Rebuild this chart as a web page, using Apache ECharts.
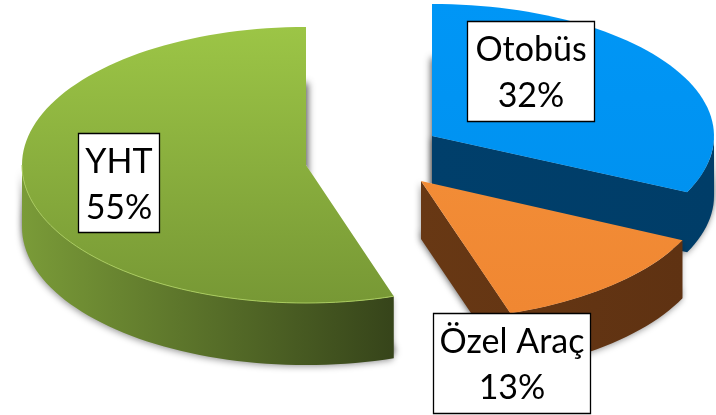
<!DOCTYPE html>
<html><head><meta charset="utf-8">
<style>html,body{margin:0;padding:0;background:#fff}#c{width:716px;height:415px}</style>
<script src="https://cdn.jsdelivr.net/npm/echarts@6/dist/echarts.min.js"></script>
</head><body><div id="c"></div>
<script>
// Data, clockwise from 12 o'clock
const categories = ["Otobüs", "Özel Araç", "YHT"];
const values = [32, 13, 55];
const percentLabels = ["32%", "13%", "55%"];

// Layout and styling of each slice (exploded 3D pie projection)
const layout = [
  {cx:432, cy:136, a:282, b:132, depth:60, sideFrom:90,  withApex:true,  box:[467,21,127,100],
   top:['#0096f6','#0092f0'], side:['#003f6b','#003d68']},
  {cx:421, cy:181, a:289, b:139, depth:58, sideFrom:null, withApex:true, box:[433,313,157,100],
   top:['#f28c36','#f08732'], side:['#683814','#5f3212']},
  {cx:306, cy:165, a:284, b:138, depth:62, sideFrom:270, withApex:false, box:[78,133,81,99],
   top:['#9cc546','#779835'], side:['#7a9b38','#36441a']}
];
const total = values.reduce((s, v) => s + v, 0);
const arcPts = (l, t0, t1) => {
  const n = Math.max(2, Math.ceil(Math.abs(t1 - t0) / 2)), pts = [];
  for (let i = 0; i <= n; i++) {
    const t = (t0 + (t1 - t0) * i / n) * Math.PI / 180;
    pts.push([l.cx + l.a * Math.sin(t), l.cy - l.b * Math.cos(t)]);
  }
  return pts;
};
const grad = (c, horizontal) => new echarts.graphic.LinearGradient(0, 0, horizontal ? 1 : 0, horizontal ? 0 : 1,
  [{offset:0,color:c[0]},{offset:1,color:c[1]}]);

function renderItem(params, api) {
  const i = params.dataIndex, l = layout[i], v = api.value(0);
  let before = 0;
  for (let k = 0; k < i; k++) before += values[k];
  const t0 = before / total * 360, t1 = (before + v) / total * 360;
  const apex = [l.cx, l.cy];
  const rim = arcPts(l, t0, t1);
  const topPts = [apex].concat(rim);
  // visible wall: the rim part facing the viewer, plus the cut face where it shows
  let wallPath;
  if (i === 0) wallPath = [apex].concat(arcPts(l, t1, l.sideFrom));
  else if (i === 1) wallPath = [apex].concat(arcPts(l, t1, t0));
  else wallPath = arcPts(l, t0, l.sideFrom);
  const wall = wallPath.concat(wallPath.slice().reverse().map(p => [p[0], p[1] + l.depth]));
  const [bx, by, bw, bh] = l.box;
  const children = [
    {type:'polygon', shape:{points:topPts}, z2:1,
     style:{fill:'#fff', shadowBlur:7, shadowColor:'rgba(50,50,50,0.8)', shadowOffsetY:l.depth - 6, shadowOffsetX:i === 2 ? 2 : -1}},
    {type:'polygon', shape:{points:wall}, z2:2,
     style:{fill:grad(l.side, true), shadowBlur:6, shadowColor:'rgba(0,0,0,0.35)', shadowOffsetY:2, shadowOffsetX:-1}},
    {type:'polygon', shape:{points:topPts}, z2:3, style:{fill:grad(l.top, false)}},
    {type:'rect', shape:{x:bx+0.5, y:by+0.5, width:bw, height:bh}, z2:20,
     style:{fill:'#fff', stroke:'#000', lineWidth:1.3}},
    {type:'text', z2:21, x:bx + bw / 2 + 0.5, y:by + bh / 2 + 2.5,
     style:{text:api.value(1) + '\n' + percentLabels[i], fill:'#000', font:'34px Lato',
            align:'center', verticalAlign:'middle', lineHeight:46}}
  ];
  if (i === 2) children.push({type:'polyline', shape:{points:arcPts(l, t0, l.sideFrom)}, z2:4,
    style:{fill:'none', stroke:'#a9cb5e', lineWidth:1}});
  return {type:'group', children};
}

const chart = echarts.init(document.getElementById('c'), null, {renderer:'canvas'});
chart.setOption({
  animation:false,
  backgroundColor:'#fff',
  series:[{
    type:'custom',
    coordinateSystem:'none',
    renderItem,
    silent:true,
    data:categories.map((c, i) => [values[i], c])
  }]
});
</script></body></html>
